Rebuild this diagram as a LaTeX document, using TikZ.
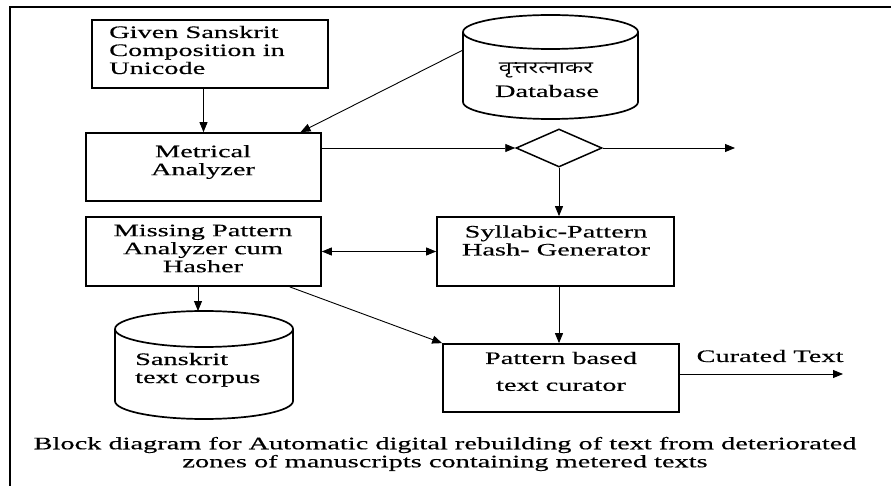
\documentclass[tikz,border=0pt]{standalone}
\usepackage{fontspec}
\setmainfont{Liberation Serif}[FakeStretch=1.62,FakeBold=0.4]
\newfontfamily\devafont[Script=Devanagari,FakeStretch=1.4]{Noto Sans}
\usetikzlibrary{arrows.meta,shapes.geometric,calc}

\begin{document}
\begin{tikzpicture}[x=1pt,y=-1pt,
  txt/.style={font=\fontsize{17.5}{18}\selectfont, inner sep=0pt},
  block/.style={draw, line width=1.7pt, inner sep=0pt},
  drum/.style={draw, line width=1.7pt},
  link/.style={line width=0.9pt, -{Triangle[length=10pt,width=8pt]}},
  dlink/.style={line width=0.9pt, {Triangle[length=10pt,width=8pt]}-{Triangle[length=10pt,width=8pt]}}]
\useasboundingbox (0,0) rectangle (891,486);

% outer frame (only top and left edges are visible)
\draw[line width=2.2pt] (10,486) -- (10,7) -- (891,7);

% process blocks
\node[block, minimum width=236, minimum height=68] (given) at (210,54) {};
\node[block, minimum width=235, minimum height=68] (metrical) at (203.5,167) {};
\node[block, minimum width=235, minimum height=69] (miss) at (203.5,251.5) {};
\node[block, minimum width=237, minimum height=69] (syl) at (555.5,251.5) {};
\node[block, minimum width=236, minimum height=68] (cur) at (561,378) {};
\node[draw, line width=1.5pt, diamond, aspect=2.26, minimum width=86, minimum height=38, inner sep=0pt] (dia) at (559,148) {};

% database drum
\draw[drum] (463,32) -- (463,102) arc[start angle=180,end angle=0,x radius=87.5,y radius=17] -- (638,32);
\draw[drum] (550.5,32) ellipse[x radius=87.5,y radius=17];
\coordinate (dbside) at (463,50);

% corpus drum
\draw[drum] (115,329) -- (115,401) arc[start angle=180,end angle=0,x radius=89,y radius=18] -- (293,329);
\draw[drum] (204,329) ellipse[x radius=89,y radius=18];
\coordinate (corptop) at (198,311);

% labels
\node[txt, anchor=base west] (givent1) at (109,38) {Given Sanskrit};
\node[txt, anchor=base west] (givent2) at (109,56) {Composition in};
\node[txt, anchor=base west] (givent3) at (109,74) {Unicode};
\node[txt, align=center] (metricalt) at (203,162) {Metrical\\Analyzer};
\node[txt, align=center] (misst) at (203,248.5) {Missing Pattern\\Analyzer cum\\Hasher};
\node[txt, align=center] (sylt) at (556,240.5) {Syllabic-Pattern\\Hash- Generator};
\node[txt] (curt1) at (561,358) {Pattern based};
\node[txt] (curt2) at (561,386) {text curator};
\node[txt, font=\devafont\fontsize{17}{18}\selectfont] (dbt1) at (546,70) {वृत्तरत्नाकर};
\node[txt] (dbt2) at (547,91) {Database};
\node[txt, anchor=base west] (corpt1) at (135,365) {Sanskrit};
\node[txt, anchor=base west] (corpt2) at (135,383) {text corpus};
\node[txt] (outt) at (770,356) {Curated Text};
\node[txt, align=center] (caption) at (445,454) {Block diagram for Automatic digital rebuilding of text from deteriorated\\zones of manuscripts containing metered texts};

% connectors
\coordinate (mtop) at ($(metrical.north west)!0.91!(metrical.north east)$);
\coordinate (mbot) at ($(miss.south west)!0.864!(miss.south east)$);
\coordinate (diaout) at (735,148);
\coordinate (curout) at (843,374);

\draw[link] (metrical.north |- given.south) -- (metrical.north);
\draw[link] (dbside) -- (mtop);
\draw[link] (metrical.east |- dia.west) -- (dia.west);
\draw[link] (dia.east) -- (diaout);
\draw[link] (dia.south) -- (dia.south |- syl.north);
\draw[dlink] (miss.east) -- (miss.east -| syl.west);
\draw[link] (dia.south |- syl.south) -- (dia.south |- cur.north);
\draw[link] (mbot) -- (cur.north west);
\draw[link] (corptop |- miss.south) -- (corptop);
\draw[link] (cur.east |- curout) -- (curout);
\end{tikzpicture}
\end{document}
